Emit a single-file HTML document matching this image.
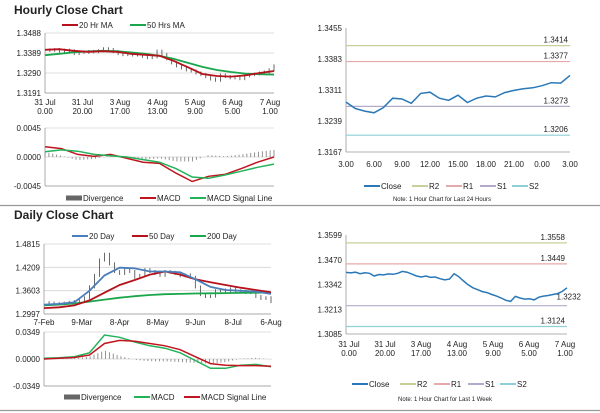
<!DOCTYPE html>
<html><head><meta charset="utf-8"><style>
body{margin:0;background:#fff;font-family:"Liberation Sans",sans-serif}
svg{display:block}
text{font-family:"Liberation Sans",sans-serif;fill:#222}
</style></head><body>
<svg id="s" width="600" height="413" viewBox="0 0 600 413">
<text x="14" y="14" font-size="12" font-weight="bold">Hourly Close Chart</text>
<text x="14" y="219" font-size="12" font-weight="bold">Daily Close Chart</text>
<line x1="0" y1="205.5" x2="600" y2="205.5" stroke="#999" stroke-width="1.2"/>
<line x1="0" y1="410.5" x2="600" y2="410.5" stroke="#999" stroke-width="1.2"/>
</svg>
<script>
// ---------- data ----------
const weekClose=[1.3405,1.3402,1.3406,1.3398,1.3403,1.3400,1.3386,1.3394,1.3392,1.3397,1.3395,1.3400,1.3410,1.3406,1.3396,1.3386,1.3381,1.3386,1.3379,1.3381,1.3372,1.3366,1.3370,1.3398,1.3382,1.3360,1.3340,1.3325,1.3315,1.3305,1.3300,1.3290,1.3282,1.3272,1.3260,1.3254,1.3280,1.3272,1.3266,1.3268,1.3262,1.3276,1.3282,1.3285,1.3290,1.3295,1.3306,1.3325];
const ma20=[1.3405,1.3408,1.3400,1.3395,1.3398,1.3395,1.3385,1.3380,1.3375,1.3350,1.3318,1.3285,1.3275,1.3272,1.3278,1.3290,1.3300];
const ma50=[1.3378,1.3385,1.3392,1.3397,1.3400,1.3398,1.3392,1.3385,1.3375,1.3360,1.3340,1.3320,1.3305,1.3295,1.3287,1.3284,1.3282];
const hMacd=[0.0016,0.0013,0.0004,0.0001,0.0004,-0.0002,-0.0008,-0.0010,-0.0025,-0.0038,-0.0030,-0.0027,-0.0018,-0.0008,0.0000];
const hSignal=[0.0008,0.0011,0.0009,0.0004,0.0002,0.0000,-0.0004,-0.0008,-0.0018,-0.0031,-0.0033,-0.0028,-0.0022,-0.0016,-0.0011];
const hourlyTicks=["1.3488","1.3389","1.3290","1.3191"];
const hourlyXLabels=[["31 Jul","0.00"],["31 Jul","20.00"],["3 Aug","17.00"],["4 Aug","13.00"],["5 Aug","9.00"],["6 Aug","5.00"],["7 Aug","1.00"]];
const dayClose=[1.3290,1.3280,1.3270,1.3265,1.3280,1.3300,1.3320,1.3350,1.3420,1.3700,1.4000,1.4400,1.4550,1.4300,1.4100,1.4050,1.4150,1.4100,1.3950,1.4000,1.4150,1.4100,1.4050,1.4000,1.4100,1.4080,1.4050,1.3990,1.4010,1.3950,1.3700,1.3500,1.3450,1.3460,1.3600,1.3620,1.3580,1.3650,1.3600,1.3580,1.3560,1.3550,1.3450,1.3400,1.3420,1.3320];
const day20=[1.3240,1.3260,1.3300,1.3600,1.4000,1.4200,1.4180,1.4100,1.4100,1.4080,1.3900,1.3700,1.3620,1.3600,1.3580,1.3520];
const day50=[1.3150,1.3170,1.3220,1.3350,1.3550,1.3750,1.3880,1.4020,1.4100,1.4020,1.3900,1.3820,1.3750,1.3680,1.3620,1.3560];
const day200=[1.3220,1.3240,1.3270,1.3320,1.3370,1.3420,1.3460,1.3490,1.3510,1.3520,1.3530,1.3535,1.3540,1.3545,1.3550,1.3555];
const dMacd=[0.0010,0.0015,0.0030,0.0080,0.0310,0.0280,0.0220,0.0170,0.0140,0.0080,-0.0020,-0.0120,-0.0120,-0.0080,-0.0070,-0.0100];
const dSignal=[0.0000,0.0010,0.0020,0.0050,0.0200,0.0240,0.0230,0.0200,0.0170,0.0120,0.0030,-0.0060,-0.0080,-0.0085,-0.0085,-0.0095];
const dailyTicks=["1.4815","1.4209","1.3603","1.2997"];
const dailyXLabels=["7-Feb","9-Mar","8-Apr","8-May","9-Jun","8-Jul","6-Aug"];
const dayClose24=[1.3283,1.3268,1.3262,1.3258,1.3270,1.3292,1.3290,1.3280,1.3303,1.3306,1.3292,1.3287,1.3299,1.3282,1.3292,1.3297,1.3295,1.3305,1.3310,1.3314,1.3316,1.3321,1.3328,1.3327,1.3345];
const pivots24=[1.3414,1.3377,1.3273,1.3206];
const pivotsWeek=[1.3558,1.3449,1.3232,1.3124];
const pivotNames=["R2","R1","S1","S2"];
const pivotColors=["#c8cf9a","#e6a9a9","#b3a9c9","#8fcfd8"];
const h24Ticks=["1.3455","1.3383","1.3311","1.3239","1.3167"];
const h24XLabels=["3.00","6.00","9.00","12.00","15.00","18.00","21.00","0.00","3.00"];
const weekTicks=["1.3599","1.3470","1.3342","1.3213","1.3085"];

// ---------- helpers ----------
const S=document.getElementById('s');const NS='http://www.w3.org/2000/svg';
function el(tag,attrs,parent){const e=document.createElementNS(NS,tag);for(const k in attrs)e.setAttribute(k,attrs[k]);(parent||S).appendChild(e);return e;}
function txt(x,y,t,size,anchor){const e=el('text',{x:x,y:y,'font-size':size||8,'text-anchor':anchor||'start'});e.textContent=t;return e;}
function lin(d0,d1,r0,r1){return v=>r0+(v-d0)/(d1-d0)*(r1-r0);}
function poly(arr,xf,yf,color,w,name){const p=arr.map((v,i)=>xf(i).toFixed(1)+','+yf(v).toFixed(1)).join(' ');const e=el('polyline',{points:p,fill:'none',stroke:color,'stroke-width':w||1.5});

return e;}
function grid(x0,x1,y,name){const e=el('line',{x1:x0,x2:x1,y1:y,y2:y,stroke:'#d4d4d4','stroke-width':0.8});

}
function axes(x0,x1,y0,y1){const a=el('line',{x1:x0,x2:x0,y1:y0,y2:y1,stroke:'#999','stroke-width':0.8});


const b=el('line',{x1:x0,x2:x1,y1:y1,y2:y1,stroke:'#999','stroke-width':0.8});

}
function legend(items,y){items.forEach(it=>{const l=el('line',{x1:it[0],x2:it[0]+16,y1:y,y2:y,stroke:it[2],'stroke-width':it[3]||2});


const t=txt(it[0]+17,y+3,it[1],8);

});}
function candles(arr,xf,yf,name){for(let i=1;i<arr.length;i++){const a=arr[i-1],b=arr[i];const x=xf(i);
const c=el('line',{x1:x,x2:x,y1:yf(Math.max(a,b))-1.5,y2:yf(Math.min(a,b))+1.5,stroke:'#444','stroke-width':0.8});

}}
function macdPanel(m,s,x0,x1,yTop,yBot,maxv,tickLbl,cM,cS,name){const yf=lin(maxv,-maxv,yTop,yBot);const n=m.length;const xf=i=>x0+i*(x1-x0)/(n-1);
[maxv,0,-maxv].forEach((v,i)=>{grid(x0,x1,yf(v),'macd-gridline');const t=txt(x0-4,yf(v)+3,tickLbl[i],8,'end');

});
axes(x0,x1,yTop,yBot);
const nb=60;for(let k=0;k<nb;k++){const f=k/(nb-1)*(n-1);const i=Math.min(Math.floor(f),n-2);const r=f-i;
const dv=(m[i]+(m[i+1]-m[i])*r)-(s[i]+(s[i+1]-s[i])*r);const x=x0+f*(x1-x0)/(n-1);
const b=el('line',{x1:x,x2:x,y1:yf(0),y2:yf(dv),stroke:'#888','stroke-width':0.9});

}
poly(m,xf,yf,cM,1.5,name+'-macd-line');poly(s,xf,yf,cS,1.5,name+'-signal-line');}

// ---------- hourly price (top-left) ----------
(function(){const x0=45,x1=274;const yf=lin(1.3488,1.3191,33,93);
hourlyTicks.forEach(t=>{const v=parseFloat(t);grid(x0,x1,yf(v),'hourly-gridline');const e=txt(x0-4,yf(v)+3,t,8,'end');

});
axes(x0,x1,33,93);
hourlyXLabels.forEach((l,i)=>{const x=x0+i*(x1-4-x0)/6;const a=txt(x,105,l[0],8,'middle');


const b=txt(x,114,l[1],8,'middle');

});
candles(weekClose,i=>x0+i*(x1-x0)/(weekClose.length-1),yf,'hourly-candle');
poly(ma50,i=>x0+i*(x1-x0)/(ma50.length-1),yf,'#1aa64a',1.8,'hourly-50ma');
poly(ma20,i=>x0+i*(x1-x0)/(ma20.length-1),yf,'#b5121b',1.8,'hourly-20ma');
legend([[62,'20 Hr MA','#b5121b'],[130,'50 Hrs MA','#1aa64a']],25);
macdPanel(hMacd,hSignal,x0,x1,128,186,0.0045,['0.0045','0.0000','-0.0045'],'#c0141e','#22b35a','hourly');
legend([[66,'Divergence','#666',5],[140,'MACD','#c0141e'],[190,'MACD Signal Line','#22b35a']],198);})();

// ---------- daily price (bottom-left) ----------
(function(){const x0=44,x1=271;const yf=lin(1.4815,1.2997,244,314);
dailyTicks.forEach(t=>{const v=parseFloat(t);grid(x0,x1,yf(v),'daily-gridline');const e=txt(x0-4,yf(v)+3,t,8,'end');

});
axes(x0,x1,244,314);
dailyXLabels.forEach((l,i)=>{const e=txt(x0+i*(x1-x0)/6,325,l,8,'middle');

});
candles(dayClose,i=>x0+i*(x1-x0)/(dayClose.length-1),yf,'daily-candle');
poly(day200,i=>x0+i*(x1-x0)/(day200.length-1),yf,'#1aa64a',1.8,'daily-200ma');
poly(day50,i=>x0+i*(x1-x0)/(day50.length-1),yf,'#b5121b',1.8,'daily-50ma');
poly(day20,i=>x0+i*(x1-x0)/(day20.length-1),yf,'#4a7ebb',1.8,'daily-20ma');
legend([[72,'20 Day','#4a7ebb'],[132,'50 Day','#b5121b'],[190,'200 Day','#1aa64a']],236);
macdPanel(dMacd,dSignal,x0,x1,332,386,0.0349,['0.0349','0.0000','-0.0349'],'#22b35a','#c0141e','daily');
legend([[64,'Divergence','#666',5],[134,'MACD','#22b35a'],[184,'MACD Signal Line','#c0141e']],397);})();

// ---------- pivot charts ----------
function pivotChart(close,piv,ticks,xl,x0,x1,yTop,yBot,name,labelBelowS1){const lo=parseFloat(ticks[ticks.length-1]),hi=parseFloat(ticks[0]);const yf=lin(hi,lo,yTop,yBot);
ticks.forEach(t=>{const e=txt(x0-4,yf(parseFloat(t))+3,t,8,'end');

});
axes(x0,x1,yTop,yBot);
piv.forEach((v,i)=>{const l=el('line',{x1:x0,x2:x1,y1:yf(v),y2:yf(v),stroke:pivotColors[i],'stroke-width':1.2});


const below=(labelBelowS1&&i==2);const t=txt(below?x1+14:x1-2,below?yf(v)-6:yf(v)-3,v.toFixed(4),8,'end');

});
poly(close,i=>x0+i*(x1-x0)/(close.length-1),yf,'#2a78b8',1.5,name+'-close-line');}
pivotChart(dayClose24,pivots24,h24Ticks,h24XLabels,346,570,28,152,'h24',false);
h24XLabels.forEach((l,i)=>{const e=txt(346+i*28,167,l,8,'middle');

});
legend([[364,'Close','#2a78b8'],[412,'R2','#c8cf9a'],[446,'R1','#e6a9a9'],[480,'S1','#b3a9c9'],[512,'S2','#8fcfd8']],186);
(function(){const n=txt(442,201,'Note: 1 Hour Chart for Last 24 Hours',6,'middle');

})();
pivotChart(weekClose,pivotsWeek,weekTicks,null,346,567,235,334,'week',true);
hourlyXLabels.forEach((l,i)=>{const x=349+i*36;const a=txt(x,347,l[0],8,'middle');


const b=txt(x,356,l[1],8,'middle');

});
legend([[352,'Close','#2a78b8'],[400,'R2','#c8cf9a'],[434,'R1','#e6a9a9'],[468,'S1','#b3a9c9'],[500,'S2','#8fcfd8']],384);
(function(){const n=txt(445,401,'Note: 1 Hour Chart for  Last 1 Week',6,'middle');

})();
</script>
</body></html>
